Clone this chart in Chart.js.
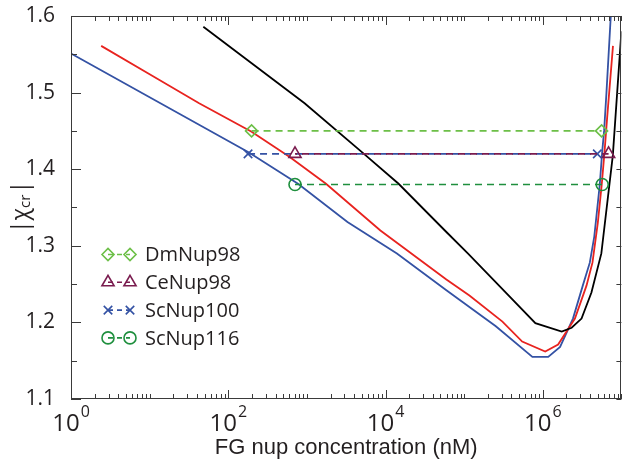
<!DOCTYPE html>
<html><head><meta charset="utf-8">
<script src="https://cdn.jsdelivr.net/npm/chart.js@4.4.0/dist/chart.umd.min.js"></script>
<style>html,body{margin:0;padding:0;background:#fff}canvas{display:block}</style>
</head><body>
<canvas id="c" width="630" height="459"></canvas>
<script>
// ---- data (concentration in nM, |chi_cr|) ----
const blueX = [1, 10, 181, 771, 3281, 13964, 59430, 252930, 738000, 1172000, 1660000, 2421000, 3228000, 3963000, 4519000, 5309000, 5689000, 6026000, 6457000, 7328000];
const blueY = [1.551, 1.494, 1.422, 1.381, 1.331, 1.290, 1.242, 1.195, 1.155, 1.155, 1.168, 1.205, 1.248, 1.278, 1.312, 1.380, 1.422, 1.450, 1.500, 1.600];
const redX = [2.42, 10, 42.6, 198, 605, 1750, 8610, 59430, 116700, 306900, 547000, 1074000, 1567000, 2564000, 3597000, 4285000, 5012000, 5623000, 6095000, 6607000, 7816000];
const redY = [1.561, 1.524, 1.486, 1.449, 1.416, 1.381, 1.320, 1.256, 1.235, 1.201, 1.175, 1.162, 1.171, 1.205, 1.248, 1.278, 1.330, 1.380, 1.422, 1.469, 1.561];
const blackX = [48.2, 935, 5321, 14660, 59430, 111400, 278000, 805400, 1742000, 2328000, 3112000, 4159000, 5559000, 7780000, 10000000];
const blackY = [1.586, 1.486, 1.420, 1.381, 1.318, 1.290, 1.248, 1.199, 1.188, 1.193, 1.205, 1.239, 1.290, 1.418, 1.580];

const seriesNames = ['DmNup98', 'CeNup98', 'ScNup100', 'ScNup116'];
const dmNup98X = [198, 5600000];   const dmNup98Y = [1.45, 1.45];
const ceNup98X = [706, 6870000];   const ceNup98Y = [1.42, 1.42];
const scNup100X = [178.5, 4940000]; const scNup100Y = [1.42, 1.42];
const scNup116X = [706, 5700000];  const scNup116Y = [1.38, 1.38];

const yTickValues = [1.1, 1.2, 1.3, 1.4, 1.5, 1.6];
const yTickLabels = ['1.1', '1.2', '1.3', '1.4', '1.5', '1.6'];
const xTickValues = [1, 100, 10000, 1000000];
const xTickBase = '10';
const xTickExponents = ['0', '2', '4', '6'];
const xTitle = 'FG nup concentration (nM)';

// ---- styles ----
const AX = '#3a3a3a', TXT = '#231f20';
const C_BLUE = '#3452a4', C_RED = '#e8231f', C_BLACK = '#000000';
const C_DM = '#6cbf47', C_CE = '#7a1c4f', C_SC100 = '#3452a4', C_SC116 = '#1f8f3e';

const pts = (xs, ys) => xs.map((x, i) => ({x, y: ys[i]}));
const markerDS = (label, xs, ys, color, style, r, dashOff) => ({
  label, data: pts(xs, ys), borderColor: color, borderWidth: 1.6,
  borderDash: [7, 5], borderDashOffset: dashOff || 0,
  pointStyle: style, pointRadius: r, pointBorderWidth: 1.6,
  pointBorderColor: color, pointBackgroundColor: 'rgba(0,0,0,0)', fill: false
});
const curveDS = (xs, ys, color) => ({
  label: '', data: pts(xs, ys), borderColor: color, borderWidth: 1.8,
  pointRadius: 0, fill: false, tension: 0
});

const markerDefs = [
  markerDS(seriesNames[0], dmNup98X, dmNup98Y, C_DM, 'rectRot', 6),
  markerDS(seriesNames[1], ceNup98X, ceNup98Y, C_CE, 'triangle', 7, 5),
  markerDS(seriesNames[2], scNup100X, scNup100Y, C_SC100, 'crossRot', 6),
  markerDS(seriesNames[3], scNup116X, scNup116Y, C_SC116, 'circle', 6),
];

function drawMarker(ctx, style, r, x, y) {
  ctx.beginPath();
  if (style === 'rectRot') {
    ctx.moveTo(x - r, y); ctx.lineTo(x, y - r); ctx.lineTo(x + r, y); ctx.lineTo(x, y + r); ctx.closePath();
  } else if (style === 'triangle') {
    const a = -Math.PI / 2;
    for (let k = 0; k < 3; k++) {
      const t = a + k * 2 * Math.PI / 3;
      const px = x + Math.cos(t) * r, py = y + Math.sin(t) * r;
      k ? ctx.lineTo(px, py) : ctx.moveTo(px, py);
    }
    ctx.closePath();
  } else if (style === 'crossRot') {
    const d = r * Math.SQRT1_2;
    ctx.moveTo(x - d, y - d); ctx.lineTo(x + d, y + d);
    ctx.moveTo(x - d, y + d); ctx.lineTo(x + d, y - d);
  } else {
    ctx.arc(x, y, r, 0, Math.PI * 2);
  }
  ctx.stroke();
}

const decor = {
  id: 'decor',
  afterDraw(chart) {
    const {ctx, chartArea: a, scales} = chart;
    const xs = scales.x, ys = scales.y;
    ctx.save();
    ctx.strokeStyle = AX; ctx.lineWidth = 1;
    // frame
    ctx.strokeRect(Math.round(a.left) + 0.5, Math.round(a.top) + 0.5,
                   Math.round(a.right - a.left) - 1, Math.round(a.bottom - a.top) - 1);
    // x ticks (inward, bottom and top)
    ctx.beginPath();
    for (let k = 0; k <= 7; k++) {
      for (let m = 1; m <= 9; m++) {
        const v = m * Math.pow(10, k);
        if (v > 1e7) break;
        const px = Math.round(xs.getPixelForValue(v)) + 0.5;
        const major = (m === 1 && k % 2 === 0);
        const len = major ? 9 : 5;
        ctx.moveTo(px, a.bottom); ctx.lineTo(px, a.bottom - len);
        ctx.moveTo(px, a.top); ctx.lineTo(px, a.top + len);
      }
    }
    // y ticks
    for (let i = 0; i <= 10; i++) {
      const v = 1.1 + i * 0.05;
      const py = Math.round(ys.getPixelForValue(v)) + 0.5;
      const major = i % 2 === 0;
      ctx.moveTo(a.left, py); ctx.lineTo(a.left + (major ? 10 : 6), py);
      ctx.moveTo(a.right, py); ctx.lineTo(a.right - 5, py);
    }
    ctx.stroke();

    // x tick labels 10^n
    ctx.fillStyle = TXT; ctx.textBaseline = 'alphabetic';
    const fBase = '24px "Open Sans"', fExp = '16px "Open Sans"';
    xTickValues.forEach((v, i) => {
      const px = xs.getPixelForValue(v);
      ctx.font = fBase;
      const w1 = ctx.measureText(xTickBase).width;
      ctx.font = fExp;
      const w2 = ctx.measureText(xTickExponents[i]).width;
      const x0 = px - (w1 + w2 + 1) / 2;
      ctx.font = fBase;
      ctx.textAlign = 'left';
      ctx.fillText(xTickBase, x0, 431);
      ctx.font = fExp;
      ctx.fillText(xTickExponents[i], x0 + w1 + 1, 417);
    });
    // x title
    ctx.font = '22px "Liberation Sans"';
    ctx.textAlign = 'center';
    ctx.fillText(xTitle, (a.left + a.right) / 2, 454);

    // y title |chi_cr|
    ctx.save();
    ctx.translate(21, 207);
    ctx.rotate(-Math.PI / 2);
    ctx.textAlign = 'left'; ctx.textBaseline = 'middle';
    const big = '23px "Open Sans"', small = '15px "Open Sans"';
    ctx.font = big; const wa = ctx.measureText('|\u03C7').width, wc = ctx.measureText('|').width;
    ctx.font = small; const wb = ctx.measureText('cr').width;
    let x0 = -(wa + wb + wc + 1) / 2;
    ctx.font = big; ctx.fillText('|\u03C7', x0, 0);
    ctx.font = small; ctx.fillText('cr', x0 + wa, 5);
    ctx.font = big; ctx.fillText('|', x0 + wa + wb + 1, 0);
    ctx.restore();

    // legend
    const lx1 = 108, lx2 = 130, ltx = 145, lTop = 254.5, lGap = 27.8;
    markerDefs.forEach((d, i) => {
      const y = lTop + i * lGap;
      ctx.strokeStyle = d.borderColor; ctx.lineWidth = 1.6;
      ctx.setLineDash([5, 4]);
      ctx.beginPath(); ctx.moveTo(lx1, y); ctx.lineTo(lx2, y); ctx.stroke();
      ctx.setLineDash([]);
      drawMarker(ctx, d.pointStyle, d.pointRadius, lx1, y);
      drawMarker(ctx, d.pointStyle, d.pointRadius, lx2, y);
      ctx.fillStyle = TXT; ctx.font = '20px "Open Sans"';
      ctx.textAlign = 'left'; ctx.textBaseline = 'middle';
      ctx.fillText(d.label, ltx, y + 1);
    });
    ctx.restore();
  }
};

new Chart(document.getElementById('c'), {
  type: 'line',
  data: {
    datasets: [
      ...markerDefs,
      curveDS(blackX, blackY, C_BLACK),
      curveDS(redX, redY, C_RED),
      curveDS(blueX, blueY, C_BLUE),
    ]
  },
  options: {
    responsive: false, animation: false, devicePixelRatio: 1,
    layout: {padding: {top: 8, right: 3, left: 0, bottom: 0}},
    plugins: {legend: {display: false}, tooltip: {enabled: false}},
    scales: {
      x: {
        type: 'logarithmic', min: 1, max: 1e7,
        grid: {display: false}, border: {display: false},
        ticks: {display: false},
        afterFit: s => { s.height = 60; }
      },
      y: {
        type: 'linear', min: 1.1, max: 1.6,
        grid: {display: false}, border: {display: false},
        afterBuildTicks: s => { s.ticks = yTickValues.map(v => ({value: v})); },
        ticks: {
          callback: (v, i) => yTickLabels[i],
          font: {family: 'Open Sans', size: 21, lineHeight: 0.76},
          color: TXT, padding: 8
        },
        afterFit: s => { s.width = 71; }
      }
    }
  },
  plugins: [decor]
});
</script>
</body></html>
